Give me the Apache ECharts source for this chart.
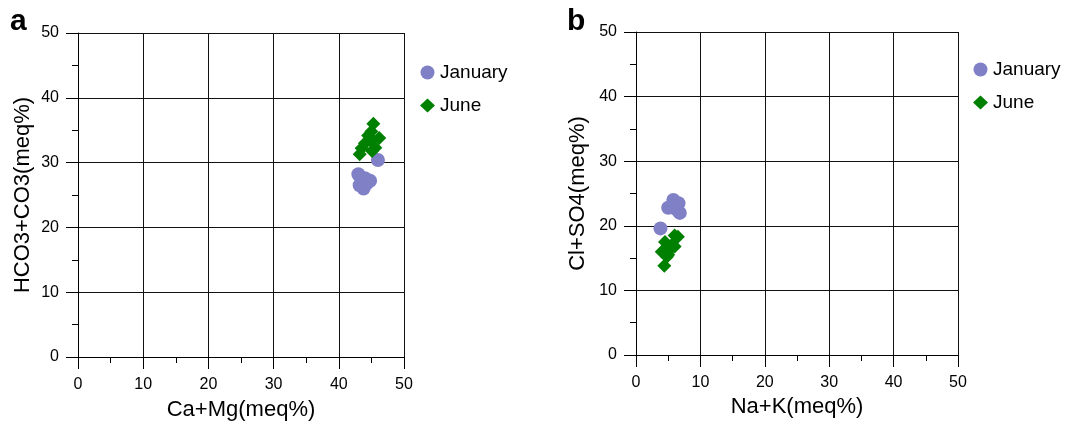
<!DOCTYPE html>
<html lang="en">
<head>
    <meta charset="UTF-8">
    <title>散点图</title>
    <script src="https://cdn.jsdelivr.net/npm/echarts@6/dist/echarts.min.js"></script>
    <style>
        body { margin: 0; background: #fff; }
        #box { width: 1071px; height: 426px; }
    </style>
</head>
<body>
<div id="box"></div>
<script>
    // tick labels shared by both panels
    var ticks = [0, 10, 20, 30, 40, 50];

    // panel a: Ca+Mg vs HCO3+CO3
    var janCaMg = [43.0, 43.2, 43.8, 44.0, 44.8, 44.3, 46.0];
    var janHCO3 = [28.2, 26.5, 26.0, 27.6, 27.2, 26.8, 30.4];
    var junCaMg = [45.3, 45.0, 44.5, 46.2, 44.0, 43.5, 45.6, 43.2, 44.8, 45.1];
    var junHCO3 = [36.0, 34.8, 34.2, 33.8, 33.0, 32.2, 32.3, 31.3, 33.5, 31.8];

    // panel b: Na+K vs Cl+SO4
    var janNaK = [5.0, 5.8, 6.6, 6.8, 5.6, 6.2, 3.8];
    var janClSO4 = [22.8, 24.0, 23.5, 22.0, 23.0, 22.6, 19.6];
    var junNaK = [4.5, 4.0, 5.0, 4.4, 6.0, 6.5, 5.5, 6.0, 4.8, 5.2];
    var junClSO4 = [17.5, 16.0, 15.5, 13.8, 18.5, 18.3, 17.0, 16.8, 15.2, 16.3];

    function zip(xs, ys) {
        return xs.map(function (x, i) { return [x, ys[i]]; });
    }

    var font = 'Liberation Sans, Arial, sans-serif';

    function axis(idx, name, gap, vertical) {
        return {
            gridIndex: idx,
            type: 'value',
            min: ticks[0],
            max: ticks[ticks.length - 1],
            interval: ticks[1] - ticks[0],
            name: name,
            nameLocation: 'middle',
            nameGap: gap,
            nameTextStyle: { fontFamily: font, fontSize: 22, color: '#000' },
            axisLine: { show: true, onZero: false, lineStyle: { color: '#000', width: 1 } },
            axisTick: { show: true, length: 12, lineStyle: { color: '#000', width: 1 } },
            minorTick: { show: true, splitNumber: 2, length: 6, lineStyle: { color: '#000' } },
            axisLabel: { fontFamily: font, fontSize: 16, color: '#000', margin: vertical ? 19 : 20 },
            splitLine: { show: true, lineStyle: { color: '#111', width: 1 } }
        };
    }

    var legendText = { fontFamily: font, fontSize: 19, color: '#000' };
    var legendData = [{ name: 'January', icon: 'circle' }, { name: 'June', icon: 'diamond' }];

    var myChart = echarts.init(document.getElementById('box'));
    var option = {
        animation: false,
        title: [
            { text: 'a', left: 5, top: 2, textStyle: { fontFamily: font, fontSize: 30, fontWeight: 'bold', color: '#000' } },
            { text: 'b', left: 562, top: 2, textStyle: { fontFamily: font, fontSize: 30, fontWeight: 'bold', color: '#000' } }
        ],
        legend: [
            {
                left: 415, top: 58, orient: 'vertical', itemGap: 14,
                itemWidth: 15, itemHeight: 14,
                textStyle: legendText, data: legendData
            },
            {
                left: 968, top: 55, orient: 'vertical', itemGap: 14,
                itemWidth: 15, itemHeight: 14,
                textStyle: legendText, data: legendData
            }
        ],
        grid: [
            { left: 78, top: 33, width: 326, height: 326 },
            { left: 636, top: 32, width: 322, height: 323 }
        ],
        xAxis: [
            axis(0, 'Ca+Mg(meq%)', 42, false),
            axis(1, 'Na+K(meq%)', 41, false)
        ],
        yAxis: [
            axis(0, 'HCO3+CO3(meq%)', 44, true),
            axis(1, 'Cl+SO4(meq%)', 47, true)
        ],
        series: [
            {
                name: 'January', type: 'scatter', xAxisIndex: 0, yAxisIndex: 0,
                symbol: 'circle', symbolSize: 14,
                itemStyle: { color: '#8080c6', opacity: 1 },
                data: zip(janCaMg, janHCO3)
            },
            {
                name: 'June', type: 'scatter', xAxisIndex: 0, yAxisIndex: 0,
                symbol: 'diamond', symbolSize: 14,
                itemStyle: { color: '#008000', opacity: 1 },
                data: zip(junCaMg, junHCO3)
            },
            {
                name: 'January', type: 'scatter', xAxisIndex: 1, yAxisIndex: 1,
                symbol: 'circle', symbolSize: 14,
                itemStyle: { color: '#8080c6', opacity: 1 },
                data: zip(janNaK, janClSO4)
            },
            {
                name: 'June', type: 'scatter', xAxisIndex: 1, yAxisIndex: 1,
                symbol: 'diamond', symbolSize: 14,
                itemStyle: { color: '#008000', opacity: 1 },
                data: zip(junNaK, junClSO4)
            }
        ]
    };
    myChart.setOption(option);
</script>
</body>
</html>
